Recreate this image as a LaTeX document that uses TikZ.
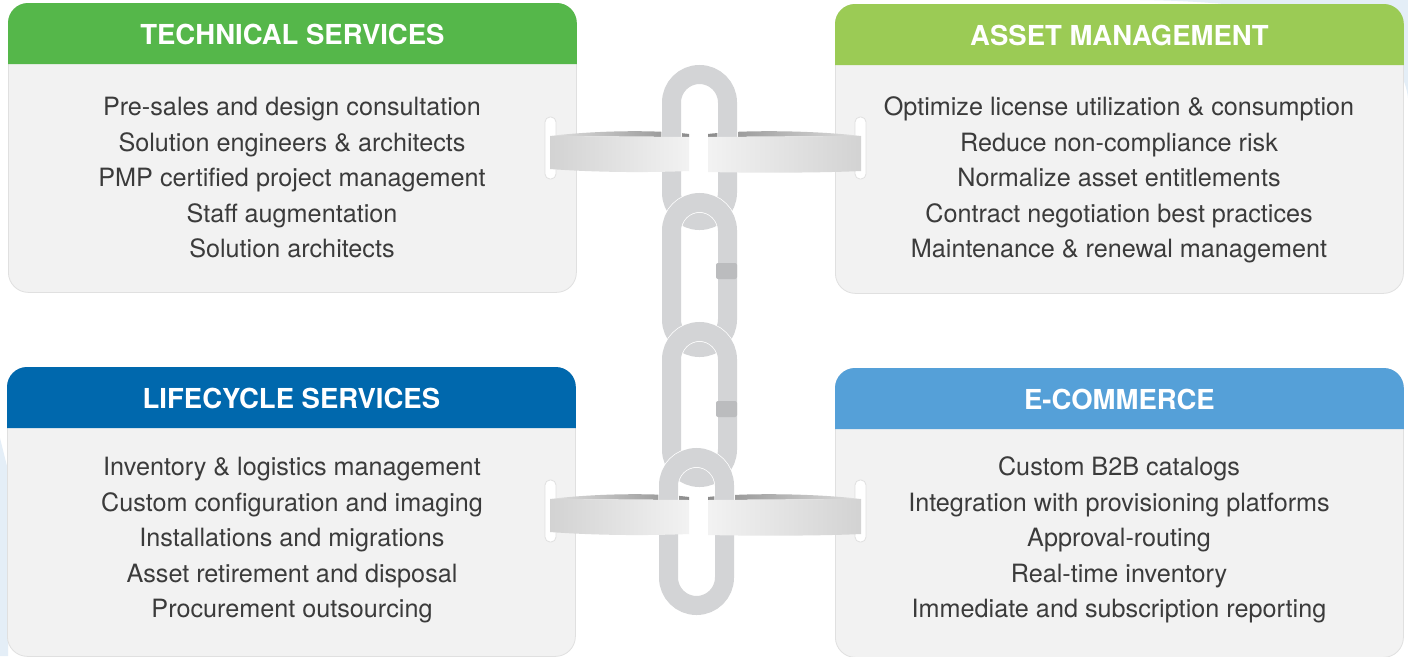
\documentclass[tikz,border=0pt]{standalone}
\usepackage{fontspec}
\setmainfont{TeX Gyre Heros}
\usetikzlibrary{calc,positioning}
\definecolor{techgreen}{HTML}{55B74A}
\definecolor{assetgreen}{HTML}{9BCB55}
\definecolor{lifeblue}{HTML}{0068AD}
\definecolor{ecomblue}{HTML}{55A0D8}
\definecolor{panelgray}{HTML}{F2F2F2}
\definecolor{panelline}{HTML}{E0E0E0}
\definecolor{linkgray}{HTML}{D3D4D6}
\definecolor{clampgray}{HTML}{BBBCBE}
\definecolor{bodytext}{HTML}{3B3B3B}
\definecolor{backblue}{HTML}{E4EEF7}
\tikzset{>=latex,
  panel/.style={draw=panelline, fill=panelgray, line width=0.8pt, rounded corners=20pt,
    minimum width=568pt, minimum height=289pt, anchor=north west},
  title/.style={text=white, font=\bfseries\fontsize{27.5}{30}\selectfont},
  items/.style={text=bodytext, align=center, font=\fontsize{25.2}{35.5}\selectfont},
  slot/.style={draw=panelline, fill=white, line width=0.8pt, rounded corners=5pt},
  link/.style={draw=linkgray, line width=19pt, rounded corners=28pt},
  halo/.style={draw=white, line width=20.5pt, rounded corners=28pt},
  clamp/.style={fill=clampgray, rounded corners=2pt}}
% header strip of a panel
\newcommand{\headbar}[2]{%
  \fill[#2] ([yshift=-61pt]#1.north west) [rounded corners=20pt] -- (#1.north west)
    -- (#1.north east) [sharp corners] -- ([yshift=-61pt]#1.north east) -- cycle;}
\begin{document}
\begin{tikzpicture}[x=1pt, y=-1pt]
\useasboundingbox (0,0) rectangle (1408,656);
\fill[white] (0,0) rectangle (1408,656);
\fill[backblue] (1140,0) .. controls (1300,2) and (1400,30) .. (1408,98) -- (1408,0) -- cycle;
\fill[backblue] (0,438) -- (8,470) -- (8,656) -- (0,656) -- cycle;

% panels
\node[panel] (tech) at (8,3) {};
\node[panel] (asset) at (835,4) {};
\node[panel] (life) at (7,367) {};
\node[panel] (ecom) at (835,368) {};
\headbar{tech}{techgreen}
\headbar{asset}{assetgreen}
\headbar{life}{lifeblue}
\headbar{ecom}{ecomblue}

\node[title] (tech-title) at ([yshift=-31pt]tech.north) {TECHNICAL SERVICES};
\node[title] (asset-title) at ([yshift=-31pt]asset.north) {ASSET MANAGEMENT};
\node[title] (life-title) at ([yshift=-31pt]life.north) {LIFECYCLE SERVICES};
\node[title] (ecom-title) at ([yshift=-31pt]ecom.north) {E-COMMERCE};

\node[items] (tech-list) at (292,178) {Pre-sales and design consultation\\
  Solution engineers \& architects\\ PMP certified project management\\
  Staff augmentation\\ Solution architects};
\node[items] (asset-list) at (1119,180) {Optimize license utilization \& consumption\\
  Reduce non-compliance risk\\ Normalize asset entitlements\\
  Contract negotiation best practices\\ Maintenance \& renewal management};
\node[items] (life-list) at (292,540.5) {Inventory \& logistics management\\
  Custom configuration and imaging\\ Installations and migrations\\
  Asset retirement and disposal\\ Procurement outsourcing};
\node[items] (ecom-list) at (1119,540) {Custom B2B catalogs\\
  Integration with provisioning platforms\\ Approval-routing\\
  Real-time inventory\\ Immediate and subscription reporting};

% slots and inner side of the bands
\foreach \t in {136,499}{
  \draw[slot] (545,\t-19) rectangle (556,\t+43);
  \draw[slot] (855,\t-19) rectangle (866,\t+43);
  \shade[left color=gray!25, right color=gray!90] (550,\t) .. controls (600,\t-6) and (660,\t-6) .. (689,\t-2) -- (689,\t+1) -- cycle;
  \shade[left color=gray!90, right color=gray!25] (708,\t-2) .. controls (740,\t-6) and (810,\t-6) .. (861,\t) -- (708,\t+1) -- cycle;
}

% chain
\foreach \xa/\ya/\yb in {671.5/74.5/220.5, 671.5/202.5/347.5, 671.5/331.5/477.5, 668.5/457.5/605.5}{
  \draw[halo] (\xa,\ya) rectangle (\xa+56,\yb);
  \draw[link] (\xa,\ya) rectangle (\xa+56,\yb);
}
\fill[clamp] (716,263) rectangle (737,279);
\fill[clamp] (716,401) rectangle (737,417);

% front of the bands
\foreach \t in {136,499}{
  \shade[left color=gray!35, right color=gray!10] (550,\t) -- (689,\t+1) -- (689,\t+35)
    .. controls (640,\t+37) and (590,\t+36) .. (550,\t+33) -- cycle;
  \shade[left color=gray!10, right color=gray!35] (708,\t+1) -- (861,\t) -- (861,\t+35)
    .. controls (820,\t+37) and (750,\t+37) .. (708,\t+36) -- cycle;
}
\end{tikzpicture}
\end{document}
